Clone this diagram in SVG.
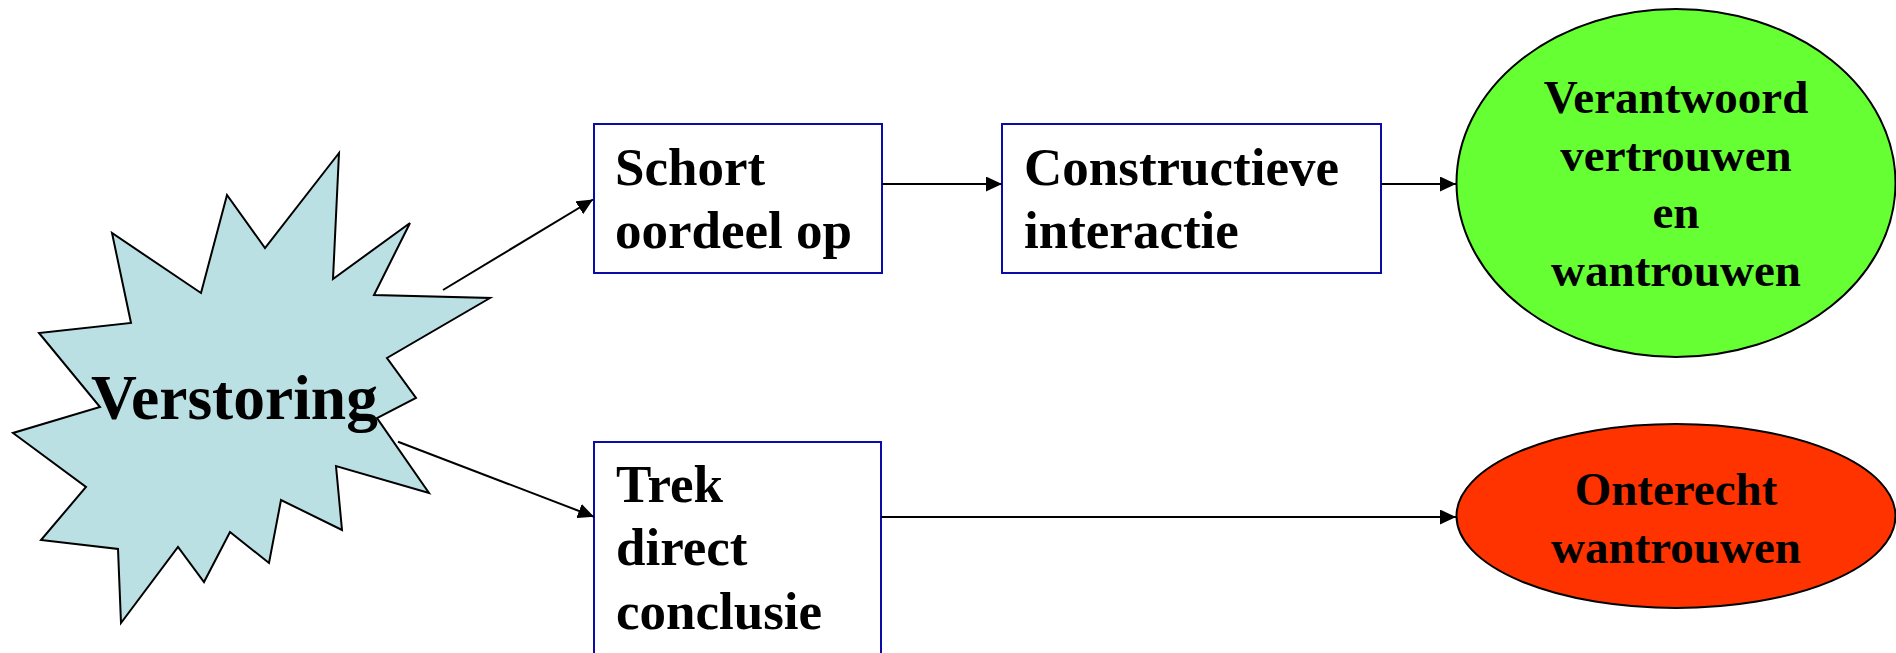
<svg xmlns="http://www.w3.org/2000/svg" width="1896" height="653" viewBox="0 0 1896 653">
<style>
.t{font-family:"Liberation Serif","Times New Roman",serif;font-weight:bold;fill:#000}
.box{fill:#fff;stroke:#0b0ba8;stroke-width:2}
.edge{stroke:#000;stroke-width:2;fill:none}
</style>
<defs>
<marker id="ah" markerUnits="userSpaceOnUse" markerWidth="16" markerHeight="15" refX="16" refY="7.5" orient="auto">
<path d="M0,0 L16,7.5 L0,15 Z" fill="#000"/>
</marker>
</defs>
<rect width="1896" height="653" fill="#fff"/>
<g id="verstoring">
<polygon points="339,153 333,279 410,223 374,295 490,298 387,358 416,398 377,418 429,493 336,466 342,530 281,500 269,563 230,532 204,582 178,547 121,623 118,549 41,540 86,487 13,433 100,407 39,333 131,323 112,233 201,293 227,195 265,248" fill="#bbe0e3" stroke="#000" stroke-width="2" stroke-linejoin="miter"/>
<text class="t" x="91" y="419" font-size="63.5">Verstoring</text>
</g>
<g id="schort">
<rect class="box" x="594" y="124" width="288" height="149"/>
<text class="t" x="615" y="185" font-size="53">Schort</text>
<text class="t" x="615" y="248" font-size="53">oordeel op</text>
</g>
<g id="constructieve">
<rect class="box" x="1002" y="124" width="379" height="149"/>
<text class="t" x="1024" y="185" font-size="53">Constructieve</text>
<text class="t" x="1024" y="248" font-size="53">interactie</text>
</g>
<g id="trek">
<rect class="box" x="594" y="442" width="287" height="230"/>
<text class="t" x="616" y="502" font-size="53">Trek</text>
<text class="t" x="616" y="565" font-size="53">direct</text>
<text class="t" x="616" y="629" font-size="53">conclusie</text>
</g>
<g id="verantwoord">
<ellipse cx="1676" cy="183" rx="219.5" ry="174" fill="#66ff33" stroke="#000" stroke-width="2"/>
<text class="t" x="1676" y="113" font-size="47" text-anchor="middle">Verantwoord</text>
<text class="t" x="1676" y="171" font-size="47" text-anchor="middle">vertrouwen</text>
<text class="t" x="1676" y="228" font-size="47" text-anchor="middle">en</text>
<text class="t" x="1676" y="286" font-size="47" text-anchor="middle">wantrouwen</text>
</g>
<g id="onterecht">
<ellipse cx="1676" cy="516" rx="219.5" ry="92" fill="#ff3300" stroke="#000" stroke-width="2"/>
<text class="t" x="1676" y="505" font-size="47" text-anchor="middle">Onterecht</text>
<text class="t" x="1676" y="563" font-size="47" text-anchor="middle">wantrouwen</text>
</g>
<g id="connectors">
<line class="edge" x1="443" y1="290" x2="593" y2="199.5" marker-end="url(#ah)"/>
<line class="edge" x1="398" y1="441.7" x2="594" y2="516.7" marker-end="url(#ah)"/>
<line class="edge" x1="882" y1="184" x2="1002" y2="184" marker-end="url(#ah)"/>
<line class="edge" x1="1381" y1="184" x2="1456" y2="184" marker-end="url(#ah)"/>
<line class="edge" x1="881" y1="517" x2="1456" y2="517" marker-end="url(#ah)"/>
</g>
</svg>
